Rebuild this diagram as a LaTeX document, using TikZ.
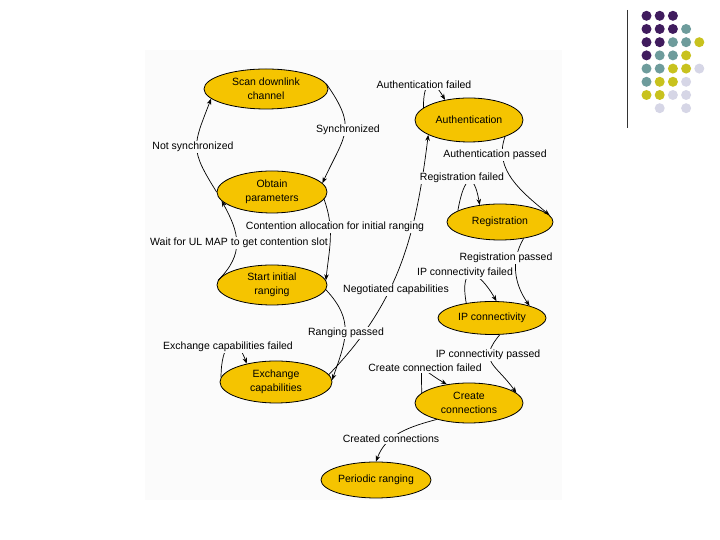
\documentclass[tikz,border=0pt]{standalone}
\usepackage{fontspec}
\setmainfont{Liberation Sans}
\usetikzlibrary{arrows.meta,shapes.geometric}
\definecolor{stateGold}{RGB}{245,196,0}
\definecolor{paperGrey}{RGB}{251,251,251}
\definecolor{dotPurple}{RGB}{64,28,94}
\definecolor{dotTeal}{RGB}{110,156,156}
\definecolor{dotOlive}{RGB}{200,194,30}
\definecolor{dotLilac}{RGB}{214,214,230}

\begin{document}
\begin{tikzpicture}[x=1pt,y=1pt,
    state/.style={ellipse,draw=black,line width=0.8pt,fill=stateGold,
      minimum width=110pt,minimum height=40pt,inner sep=0pt,align=center,
      font=\fontsize{10.5}{14}\selectfont},
    cond/.style={fill=paperGrey,inner sep=1.5pt,font=\fontsize{10.5}{12}\selectfont},
    link/.style={-{Stealth[length=6pt,width=4.5pt]},line width=0.7pt}
  ]
  \useasboundingbox (0,0) rectangle (720,540);
  \fill[paperGrey] (145,40) rectangle (562,490);

  % slide decoration, top right
  \draw[black!80,line width=0.8pt] (627,530) -- (627,412);
  \foreach \c/\r in {0/0,1/0,2/0,0/1,1/1,2/1,0/2,1/2,0/3}
    \fill[dotPurple] (646.5+13.2*\c,524.2-13.2*\r) circle (5);
  \foreach \c/\r in {3/1,2/2,3/2,1/3,2/3,0/4,1/4,0/5}
    \fill[dotTeal] (646.5+13.2*\c,524.2-13.2*\r) circle (5);
  \foreach \c/\r in {4/2,3/3,2/4,3/4,1/5,2/5,0/6,1/6}
    \fill[dotOlive] (646.5+13.2*\c,524.2-13.2*\r) circle (5);
  \foreach \c/\r in {4/4,3/5,2/6,3/6,1/7,3/7}
    \fill[dotLilac] (646.5+13.2*\c,524.2-13.2*\r) circle (5);

  \node[state,minimum width=124pt] (scan) at (266,451) {Scan downlink\\channel};
  \node[state,minimum height=42pt] (obtain) at (272,348) {Obtain\\parameters};
  \node[state] (start) at (272,255) {Start initial\\ranging};
  \node[state,minimum width=112pt,minimum height=42pt] (exch) at (276,158)
    {Exchange\\capabilities};
  \node[state,minimum width=108pt,minimum height=44pt] (auth) at (469,420) {Authentication};
  \node[state,minimum width=106pt,minimum height=36pt] (reg) at (500,318) {Registration};
  \node[state,minimum width=108pt,minimum height=33pt] (ipc) at (492,222) {IP connectivity};
  \node[state,minimum width=108pt] (create) at (469,137) {Create\\connections};
  \node[state,minimum height=36pt] (periodic) at (376,60) {Periodic ranging};

  % transitions first, their labels are laid over them afterwards
  \draw[link] (scan.5) to[out=-55,in=65,looseness=1.4] (obtain.10);
  \draw[link] (obtain.180) to[out=122,in=-111,looseness=1.4] (scan.190);
  \draw[link] (obtain.-8) to[out=-70,in=84] (start.5);
  \draw[link] (start.175) to[out=45,in=-61,looseness=1.2] (obtain.190);
  \draw[link] (start.-5) to[out=-47,in=71,looseness=1.2] (exch.2);
  \draw[link] (exch.175) to[out=90,in=110,looseness=3] (exch.148);
  \draw[link] (exch.8) to[out=46,in=-97] (auth.200);
  \draw[link] (auth.165) to[out=90,in=120,looseness=3] (auth.140);
  \draw[link] (auth.-25) to[out=-110,in=140] (reg.8);
  \draw[link] (reg.165) to[out=80,in=100,looseness=4] (reg.140);
  \draw[link] (reg.-35) to[out=-120,in=125] (ipc.18);
  \draw[link] (ipc.150) to[out=100,in=120,looseness=3.3] (ipc.75);
  \draw[link] (ipc.-65) to[out=-130,in=125,looseness=1.5] (create.12);
  \draw[link] (create.168) to[out=90,in=150,looseness=3.25] (create.140);
  \draw[link] (create.207) to[out=195,in=70] (periodic.north);

  \node[cond] (lsync) at (348,410) {Synchronized};
  \node[cond] (lnosync) at (193,393) {Not synchronized};
  \node[cond] (lcont) at (335,313) {Contention allocation for initial ranging};
  \node[cond] (lwait) at (239,297) {Wait for UL MAP to get contention slot};
  \node[cond] (lrang) at (346,207) {Ranging passed};
  \node[cond] (lexfail) at (228,193) {Exchange capabilities failed};
  \node[cond] (lnego) at (396,250) {Negotiated capabilities};
  \node[cond] (lafail) at (424,455) {Authentication failed};
  \node[cond] (lapass) at (495,385) {Authentication passed};
  \node[cond] (lrfail) at (462,362) {Registration failed};
  \node[cond] (lrpass) at (506,282) {Registration passed};
  \node[cond] (lipfail) at (465,267) {IP connectivity failed};
  \node[cond] (lippass) at (488,185) {IP connectivity passed};
  \node[cond] (lcrfail) at (425,172) {Create connection failed};
  \node[cond] (lcreated) at (391,101) {Created connections};
\end{tikzpicture}
\end{document}
